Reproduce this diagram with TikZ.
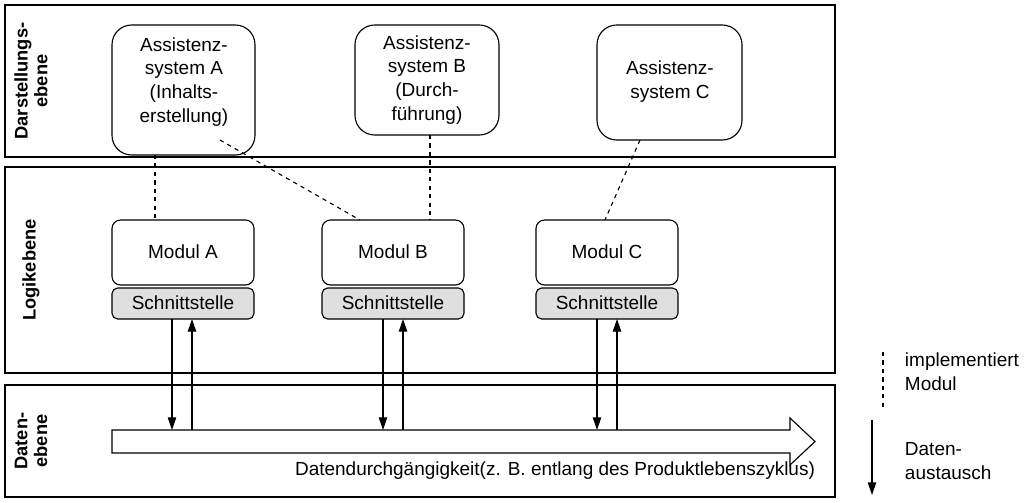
\documentclass[tikz,border=0pt]{standalone}
\usepackage{fontspec}
\setmainfont{Liberation Sans}
\usetikzlibrary{arrows.meta}
\tikzset{
  ebene/.style={draw,thick},
  ebenetext/.style={rotate=90,font=\bfseries\fontsize{13}{14}\selectfont,align=center},
  system/.style={draw,thick,rounded corners=14pt,align=center},
  modul/.style={draw,thick,rounded corners=6pt},
  schnitt/.style={draw,thick,fill=gray!25,rounded corners=4pt},
  impl/.style={dashed,thick},
  daten/.style={thick,-{Triangle[length=9pt,width=6pt]}}
}
\begin{document}
\begin{tikzpicture}[x=0.025cm,y=-0.025cm,font=\fontsize{13.5}{17}\selectfont]
\useasboundingbox (0,0) rectangle (1024,502);
% Ebenen
\draw[ebene] (5,5) rectangle (835,157);
\draw[ebene] (5,167) rectangle (835,373);
\draw[ebene] (5,385) rectangle (835,497);
\node[ebenetext] (ld) at (31,81) {Darstellungs-\\ebene};
\node[ebenetext] (ll) at (31,270) {Logikebene};
\node[ebenetext] (le) at (31,441) {Daten-\\ebene};
% Assistenzsysteme
\draw[system] (112,25) rectangle (255,155);
\node[align=center] (ta) at (184,82) {Assistenz-\\system A\\(Inhalts-\\erstellung)};
\draw[system] (355,25) rectangle (499,135);
\node[align=center] (tb) at (427,80) {Assistenz-\\system B\\(Durch-\\führung)};
\draw[system] (597,25) rectangle (742,140);
\node[align=center] (tc) at (670,82) {Assistenz-\\system C};
\coordinate (sa1) at (155,155);
\coordinate (sa2) at (220,140);
\coordinate (sb1) at (430,135);
\coordinate (sc1) at (640,140);
% Module
\foreach \n/\x in {A/112,B/322,C/536}{
  \draw[modul] (\x,220) rectangle ++(142,65);
  \node (m\n) at (\x+71,252) {Modul \n};
  \draw[schnitt] (\x,288) rectangle ++(142,31);
  \node (s\n) at (\x+71,303) {Schnittstelle};
}
\coordinate (ma) at (155,220);
\coordinate (mb1) at (360,220);
\coordinate (mb2) at (430,220);
\coordinate (mc) at (605,220);
\draw[impl] (sa1) -- (ma);
\draw[impl] (sa2) -- (mb1);
\draw[impl] (sb1) -- (mb2);
\draw[impl] (sc1) -- (mc);
% Datenpfeil
\draw[thick,fill=white] (112,430) -- (790,430) -- (790,418) -- (815,441.5)
  -- (790,465) -- (790,453) -- (112,453) -- cycle;
\node (dt) at (555,471) {Datendurchgängigkeit(z. B. entlang des Produktlebenszyklus)};
% Datenaustausch
\foreach \x in {172,383,597}{
  \draw[daten] (\x,319) -- (\x,430);
  \draw[daten] (\x+20,430) -- (\x+20,319);
}
% Legende
\coordinate (l1) at (883,352);
\coordinate (l2) at (883,410);
\draw[impl] (l1) -- (l2);
\node[align=left,anchor=west] (lt1) at (900,372) {implementiert\\Modul};
\coordinate (l3) at (872,420);
\coordinate (l4) at (872,495);
\draw[daten] (l3) -- (l4);
\node[align=left,anchor=west] (lt2) at (900,461) {Daten-\\austausch};
\end{tikzpicture}
\end{document}
